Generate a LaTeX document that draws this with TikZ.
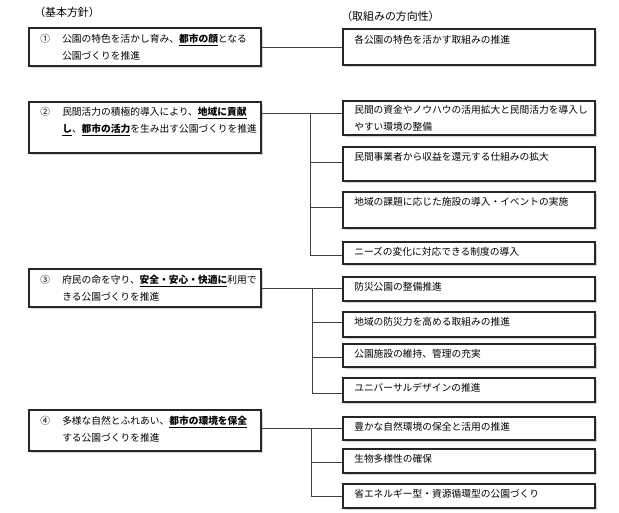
\documentclass[tikz,border=0pt]{standalone}
\usepackage{fontspec}
\setmainfont{Noto Sans CJK JP}
\usetikzlibrary{fit,shadows}
\newcommand{\ub}[1]{\underline{\textbf{#1}}}
\tikzset{
  box/.style={draw=black!85, line width=0.8pt, fill=white, inner sep=0pt, drop shadow={shadow xshift=1.2pt, shadow yshift=-1.2pt, opacity=0.35}},
  txt/.style={anchor=north west, inner sep=0pt, align=left, font=\fontsize{7.3pt}{12.8pt}\selectfont},
  hdr/.style={anchor=north west, inner sep=0pt, font=\fontsize{8.2pt}{10pt}\selectfont},
  con/.style={draw=black!75, line width=0.7pt},
}
\begin{document}
\begin{tikzpicture}[x=0.75pt,y=-0.75pt]
\useasboundingbox (0,0) rectangle (619,512);
\node[hdr] (h1) at (34,7) {（基本方針）};
\node[hdr] (h2) at (341,11) {（取組みの方向性）};
% left boxes
\node[box, fit={(29,28)(261,66)}] (b1) {};
\node[txt] (n1) at (40,34) {①};
\node[txt, text width=145pt] (t1) at (62,34) {公園の特色を活かし育み、\ub{都市の顔}となる\\公園づくりを推進};
\node[box, fit={(29,102)(261,153)}] (b2) {};
\node[txt] (n2) at (40,107) {②};
\node[txt, text width=145pt] (t2) at (62,107) {民間活力の積極的導入により、\ub{地域に貢献}\\\ub{し}、\ub{都市の活力}を生み出す公園づくりを推進};
\node[box, fit={(29,269)(261,307)}] (b3) {};
\node[txt] (n3) at (40,275) {③};
\node[txt, text width=145pt] (t3) at (62,275) {府民の命を守り、\ub{安全・安心・快適に}利用で\\きる公園づくりを推進};
\node[box, fit={(29,410)(261,451)}] (b4) {};
\node[txt] (n4) at (40,416) {④};
\node[txt, text width=145pt] (t4) at (62,416) {多様な自然とふれあい、\ub{都市の環境を保全}\\する公園づくりを推進};
% right boxes
\newcommand{\rb}[5]{\node[box, fit={(343,#2)(595,#3)}] (#1) {};
  \node[txt, text width=185pt] at (354,#2+#5) {#4};}
\rb{r1}{29}{65}{各公園の特色を活かす取組みの推進}{6}
\rb{r2a}{101}{135}{民間の資金やノウハウの活用拡大と民間活力を導入し\\やすい環境の整備}{4}
\rb{r2b}{147}{181}{民間事業者から収益を還元する仕組みの拡大}{5}
\rb{r2c}{192}{228}{地域の課題に応じた施設の導入・イベントの実施}{5}
\rb{r2d}{242}{264}{ニーズの変化に対応できる制度の導入}{5}
\rb{r3a}{277}{301}{防災公園の整備推進}{5}
\rb{r3b}{312}{337}{地域の防災力を高める取組みの推進}{5}
\rb{r3c}{344}{367}{公園施設の維持、管理の充実}{5}
\rb{r3d}{378}{402}{ユニバーサルデザインの推進}{5}
\rb{r4a}{417}{440}{豊かな自然環境の保全と活用の推進}{5}
\rb{r4b}{449}{473}{生物多様性の確保}{5}
\rb{r4c}{484}{508}{省エネルギー型・資源循環型の公園づくり}{5}
% connectors
\coordinate (c1) at (0,47);
\draw[con] (b1.east |- c1) -- (r1.west |- c1);
\coordinate (k2) at (310,113);
\coordinate (k2d) at (310,255);
\draw[con] (b2.east |- k2) -- (r2a.west |- k2);
\draw[con] (k2) -- (k2d) -- (r2d.west |- k2d);
\draw[con] (310,162) -- (r2b.west |- 0,162);
\draw[con] (310,207) -- (r2c.west |- 0,207);
\coordinate (k3) at (312,288);
\coordinate (k3d) at (312,393);
\draw[con] (b3.east |- k3) -- (r3a.west |- k3);
\draw[con] (k3) -- (k3d) -- (r3d.west |- k3d);
\draw[con] (312,322) -- (r3b.west |- 0,322);
\draw[con] (312,357) -- (r3c.west |- 0,357);
\coordinate (k4) at (311,428);
\coordinate (k4d) at (311,496);
\draw[con] (b4.east |- k4) -- (r4a.west |- k4);
\draw[con] (k4) -- (k4d) -- (r4c.west |- k4d);
\draw[con] (311,462) -- (r4b.west |- 0,462);
\end{tikzpicture}
\end{document}
